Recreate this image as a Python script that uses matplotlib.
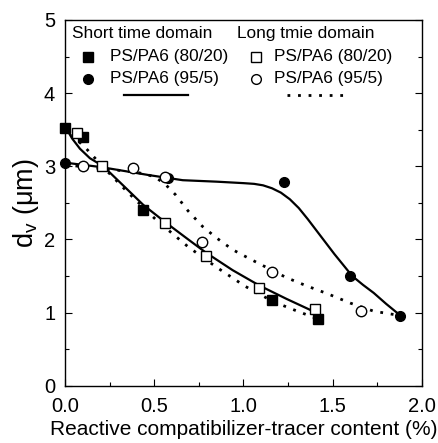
import numpy as np
from matplotlib import pyplot as plt

plt.rcParams['font.family'] = ['Liberation Sans', 'DejaVu Sans']

# measured points
x_8020_short = [0.0, 0.10, 0.44, 1.16, 1.42]
y_8020_short = [3.53, 3.40, 2.40, 1.17, 0.91]
x_8020_long = [0.07, 0.21, 0.56, 0.79, 1.09, 1.40]
y_8020_long = [3.45, 3.00, 2.23, 1.78, 1.34, 1.05]
x_955_short = [0.0, 0.58, 1.23, 1.60, 1.88]
y_955_short = [3.05, 2.84, 2.79, 1.50, 0.95]
x_955_long = [0.10, 0.38, 0.56, 0.77, 1.16, 1.66]
y_955_long = [3.00, 2.97, 2.86, 1.96, 1.56, 1.02]

# fitted curves
fx_8020_short = [0.0, 0.04, 0.084, 0.14, 0.215, 0.30, 0.44, 0.56, 0.68, 0.79, 0.94, 1.09, 1.24, 1.39]
fy_8020_short = [3.55, 3.38, 3.24, 3.11, 3.00, 2.80, 2.47, 2.24, 2.02, 1.82, 1.58, 1.37, 1.19, 1.02]
fx_8020_long = [0.0, 0.06, 0.12, 0.21, 0.35, 0.51, 0.69, 0.85, 1.01, 1.16, 1.26, 1.41]
fy_8020_long = [3.55, 3.38, 3.24, 3.00, 2.65, 2.27, 1.90, 1.62, 1.36, 1.16, 1.06, 0.92]
fx_955_short = [0.0, 0.2, 0.47, 0.66, 0.85, 1.00, 1.06, 1.11, 1.16, 1.21, 1.26, 1.31, 1.36, 1.41,
                1.46, 1.51, 1.56, 1.61, 1.67, 1.73, 1.80, 1.88]
fy_955_short = [3.05, 2.99, 2.88, 2.81, 2.79, 2.77, 2.76, 2.74, 2.70, 2.64, 2.55, 2.43, 2.28, 2.12,
                1.96, 1.80, 1.65, 1.50, 1.38, 1.27, 1.12, 0.96]
fx_955_long = [0.0, 0.2, 0.40, 0.50, 0.56, 0.62, 0.69, 0.77, 0.85, 0.94, 1.04, 1.16, 1.24, 1.35, 1.47, 1.60, 1.73, 1.88]
fy_955_long = [3.02, 2.97, 2.92, 2.86, 2.76, 2.61, 2.39, 2.18, 2.02, 1.86, 1.73, 1.58, 1.48, 1.37, 1.26, 1.13, 1.02, 0.96]

fig = plt.figure(figsize=(4.39, 4.43), dpi=100)
ax = fig.add_axes([0.148, 0.129, 0.813, 0.826])

dots = (0, (1.0, 2.8))
ax.plot(fx_8020_short, fy_8020_short, '-', color='black', lw=1.6)
ax.plot(fx_955_short, fy_955_short, '-', color='black', lw=1.6)
ax.plot(fx_8020_long, fy_8020_long, linestyle=dots, color='black', lw=2.0)
ax.plot(fx_955_long, fy_955_long, linestyle=dots, color='black', lw=2.0)

ms = 7
ax.plot(x_8020_short, y_8020_short, 's', color='black', ms=ms, clip_on=False)
ax.plot(x_955_short, y_955_short, 'o', color='black', ms=ms, clip_on=False)
ax.plot(x_8020_long, y_8020_long, 's', mfc='white', mec='black', mew=1.0, ms=ms, clip_on=False)
ax.plot(x_955_long, y_955_long, 'o', mfc='white', mec='black', mew=1.0, ms=ms + 0.5, clip_on=False)

# legend drawn by hand
tr = ax.transAxes
fs = 12.4
ax.text(0.02, 0.964, 'Short time domain', transform=tr, fontsize=fs, va='center')
ax.text(0.483, 0.964, 'Long tmie domain', transform=tr, fontsize=fs, va='center')
ax.plot([0.065], [0.899], 's', color='black', ms=6.5, transform=tr)
ax.plot([0.065], [0.839], 'o', color='black', ms=7, transform=tr)
ax.plot([0.535], [0.899], 's', mfc='white', mec='black', mew=1.0, ms=6.5, transform=tr)
ax.plot([0.535], [0.839], 'o', mfc='white', mec='black', mew=1.0, ms=7, transform=tr)
ax.text(0.125, 0.899, 'PS/PA6 (80/20)', transform=tr, fontsize=fs, va='center')
ax.text(0.125, 0.839, 'PS/PA6 (95/5)', transform=tr, fontsize=fs, va='center')
ax.text(0.585, 0.899, 'PS/PA6 (80/20)', transform=tr, fontsize=fs, va='center')
ax.text(0.585, 0.839, 'PS/PA6 (95/5)', transform=tr, fontsize=fs, va='center')
ax.plot([0.165, 0.345], [0.795, 0.795], '-', color='black', lw=1.6, transform=tr)
ax.plot([0.622, 0.80], [0.795, 0.795], linestyle=dots, color='black', lw=2.0, transform=tr)

ax.set_xlim(0, 2.0)
ax.set_ylim(0, 5)
ax.set_xticks([0.0, 0.5, 1.0, 1.5, 2.0])
ax.set_xticks([0.25, 0.75, 1.25, 1.75], minor=True)
ax.set_yticks([0, 1, 2, 3, 4, 5])
ax.set_yticks([0.5, 1.5, 2.5, 3.5, 4.5], minor=True)
ax.set_xticklabels(['0.0', '0.5', '1.0', '1.5', '2.0'])
ax.tick_params(which='both', direction='in', right=True, top=False, labelsize=14.5, width=0.8)
ax.tick_params(which='major', length=5)
ax.tick_params(axis='x', which='major', pad=8)
ax.tick_params(axis='y', which='major', pad=7)
ax.tick_params(which='minor', length=3)
for s in ax.spines.values():
    s.set_linewidth(1.0)

ax.set_xlabel('Reactive compatibilizer-tracer content (%)', fontsize=15, labelpad=3)
ax.set_ylabel(r'd$_\mathregular{v}$ ($\mathregular{\mu}$m)', fontsize=19.5, labelpad=2)

fig.savefig('out.png', dpi=100)
